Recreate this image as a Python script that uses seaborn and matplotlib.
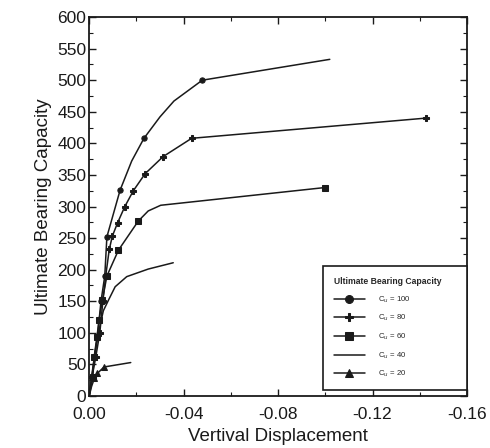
import matplotlib
matplotlib.use("Agg")
import matplotlib.pyplot as plt
import seaborn as sns
import pandas as pd
from matplotlib.ticker import MultipleLocator, FormatStrFormatter

# ---- data ----
series_labels = ["C$_u$ = 100", "C$_u$ = 80", "C$_u$ = 60", "C$_u$ = 40", "C$_u$ = 20"]

cu100_x = [0, -0.0010, -0.0022, -0.0035, -0.0050, -0.0066, -0.0075, -0.0131, -0.0180, -0.0232, -0.0300, -0.0359, -0.0479, -0.1019]
cu100_y = [0, 30, 62, 94, 150, 190, 252, 326, 372, 408, 442, 467, 500, 533]

cu80_x = [0, -0.0012, -0.0028, -0.0045, -0.0058, -0.0070, -0.0085, -0.0098, -0.0120, -0.0151, -0.0187, -0.0237, -0.0313, -0.0434, -0.1427]
cu80_y = [0, 30, 62, 100, 150, 190, 232, 253, 274, 300, 325, 352, 379, 408, 440]

cu60_x = [0, -0.0015, -0.0021, -0.0033, -0.0042, -0.0056, -0.0075, -0.0124, -0.0208, -0.0250, -0.0303, -0.0997]
cu60_y = [0, 30, 62, 94, 121, 152, 190, 231, 277, 293, 302, 330]

cu40_x = [0, -0.0015, -0.0030, -0.0045, -0.0060, -0.0082, -0.0110, -0.0159, -0.0250, -0.0356]
cu40_y = [0, 40, 80, 110, 135, 152, 173, 189, 201, 211]

cu20_x = [0, -0.0010, -0.0022, -0.0035, -0.0063, -0.0176]
cu20_y = [0, 15, 28, 36, 46, 53]

x_label = "Vertival Displacement"
y_label = "Ultimate Bearing Capacity"
legend_title = "Ultimate Bearing Capacity"

# ---- style ----
sns.set_theme(style="ticks")
plt.rcParams["font.family"] = ["Liberation Sans", "DejaVu Sans"]
plt.rcParams["axes.unicode_minus"] = False

fig = plt.figure(figsize=(4.9, 4.48), dpi=100)
ax = fig.add_axes([0.182, 0.116, 0.771, 0.846])

col = "#1a1a1a"
specs = [
    (cu100_x, cu100_y, "o", 3.8, [1, 2, 3, 4, 5, 6, 7, 9, 12]),
    (cu80_x, cu80_y, "P", 4.3, list(range(1, 15))),
    (cu60_x, cu60_y, "s", 3.8, [1, 2, 3, 4, 5, 6, 7, 8, 11]),
    (cu40_x, cu40_y, None, 0, None),
    (cu20_x, cu20_y, "^", 4.0, [2, 3, 4]),
]

for (xs, ys, mk, ms, me), lab in zip(specs, series_labels):
    df = pd.DataFrame({"x": xs, "y": ys})
    kw = dict(marker=mk, markersize=ms, markevery=me) if mk else {}
    sns.lineplot(data=df, x="x", y="y", ax=ax, sort=False, estimator=None,
                 color=col, linewidth=1.1, label=lab,
                 markeredgecolor=col, markerfacecolor=col, **kw)

ax.set_xlim(0, -0.16)
ax.set_ylim(0, 600)
ax.xaxis.set_major_locator(MultipleLocator(0.04))
ax.xaxis.set_minor_locator(MultipleLocator(0.02))
ax.xaxis.set_major_formatter(FormatStrFormatter("%.2f"))
ax.yaxis.set_major_locator(MultipleLocator(50))
ax.yaxis.set_minor_locator(MultipleLocator(25))
ax.tick_params(which="both", direction="in", top=True, right=True,
               colors=col, labelcolor=col)
ax.tick_params(which="major", length=5, width=1.0, labelsize=12.5, pad=2)
ax.tick_params(axis="x", which="major", pad=8)
ax.tick_params(which="minor", length=3, width=0.8)
for s in ax.spines.values():
    s.set_color(col)
    s.set_linewidth(1.3)

ax.set_xlabel(x_label, fontsize=13.5, color=col, labelpad=4)
ax.set_ylabel(y_label, fontsize=13.5, color=col, labelpad=4)

leg = ax.legend(loc="lower left", bbox_to_anchor=(0.62, 0.015, 0.38, 0.33),
                mode="expand", title=legend_title,
                fontsize=5.6, title_fontproperties={"size": 6.2, "weight": "bold"},
                frameon=True, fancybox=False, edgecolor=col, framealpha=1,
                handlelength=3.9, labelspacing=1.05, borderpad=1.4,
                handletextpad=1.7, markerscale=1.5, borderaxespad=0)
leg.get_frame().set_linewidth(1.2)
leg._legend_box.align = "left"

fig.savefig("out.png", dpi=100)
